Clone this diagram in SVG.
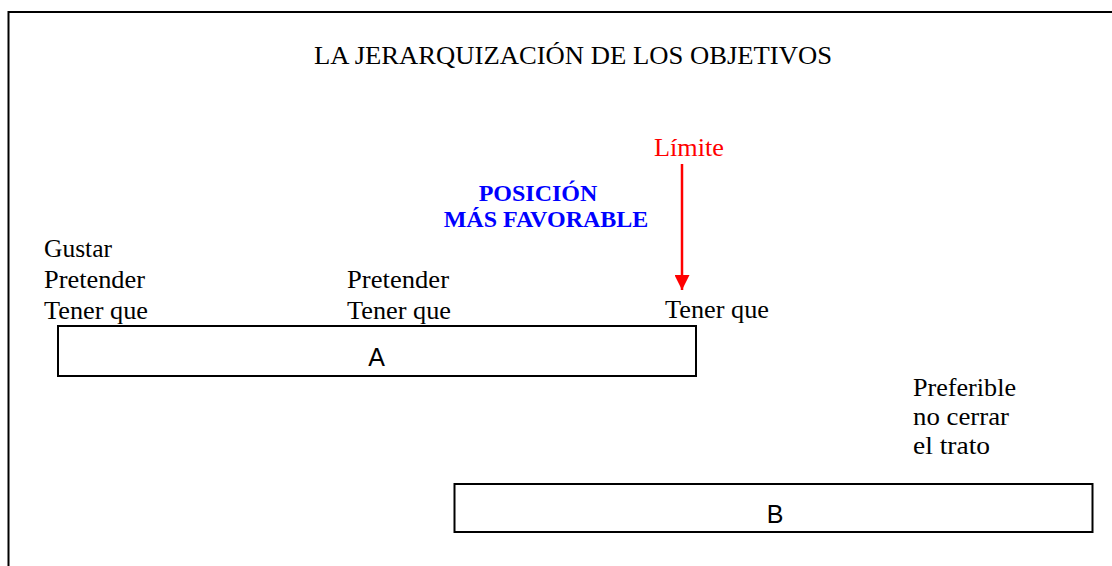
<svg xmlns="http://www.w3.org/2000/svg" width="1112" height="566" viewBox="0 0 1112 566">
<style>
.t{font-family:"Liberation Serif","Times New Roman",serif;font-size:26px;fill:#000}
.b{font-family:"Liberation Serif","Times New Roman",serif;font-size:24px;font-weight:bold;fill:#0000ff}
.s{font-family:"Liberation Sans",Arial,sans-serif;font-size:25px;fill:#000}
.box{fill:#fff;stroke:#000;stroke-width:2}
</style>
<defs>
<marker id="ah" markerWidth="15" markerHeight="15" refX="15" refY="7.5" orient="auto" markerUnits="userSpaceOnUse" viewBox="0 0 15 15"><path d="M0,0 L15,7.5 L0,15 Z" fill="#ff0000"/></marker>
</defs>
<rect width="1112" height="566" fill="#fff"/>
<path d="M8.5,566 L8.5,12 L1112,12" fill="none" stroke="#000" stroke-width="2"/>
<g id="title"><text class="t" x="314" y="64" textLength="518" lengthAdjust="spacingAndGlyphs">LA JERARQUIZACIÓN DE LOS OBJETIVOS</text></g>
<g id="limite"><text x="654" y="156" textLength="70" lengthAdjust="spacingAndGlyphs" style="font-family:'Liberation Serif','Times New Roman',serif;font-size:26px;fill:#ff0000">Límite</text></g>
<g id="posicion"><text class="b" x="538" y="201" text-anchor="middle">POSICIÓN</text><text class="b" x="546" y="227" text-anchor="middle">MÁS FAVORABLE</text></g>
<g id="col1"><text class="t" x="44" y="257" textLength="68" lengthAdjust="spacingAndGlyphs">Gustar</text><text class="t" x="44" y="288" textLength="101" lengthAdjust="spacingAndGlyphs">Pretender</text><text class="t" x="44" y="319" textLength="104" lengthAdjust="spacingAndGlyphs">Tener que</text></g>
<g id="col2"><text class="t" x="347" y="288" textLength="102" lengthAdjust="spacingAndGlyphs">Pretender</text><text class="t" x="347" y="319" textLength="104" lengthAdjust="spacingAndGlyphs">Tener que</text></g>
<g id="col3"><text class="t" x="665" y="318" textLength="104" lengthAdjust="spacingAndGlyphs">Tener que</text></g>
<g id="pref"><text class="t" x="913" y="396" textLength="103" lengthAdjust="spacingAndGlyphs">Preferible</text><text class="t" x="913" y="425" textLength="96" lengthAdjust="spacingAndGlyphs">no cerrar</text><text class="t" x="913" y="454" textLength="77" lengthAdjust="spacingAndGlyphs">el trato</text></g>
<g id="boxA"><rect class="box" x="58" y="326" width="638" height="50"/><text class="s" x="376.5" y="366" text-anchor="middle">A</text></g>
<g id="boxB"><rect class="box" x="454.5" y="484" width="638" height="48"/><text class="s" x="775" y="523" text-anchor="middle">B</text></g>
<g id="connectors"><line x1="682" y1="164" x2="682" y2="290" stroke="#ff0000" stroke-width="2.5" marker-end="url(#ah)"/></g>
</svg>
